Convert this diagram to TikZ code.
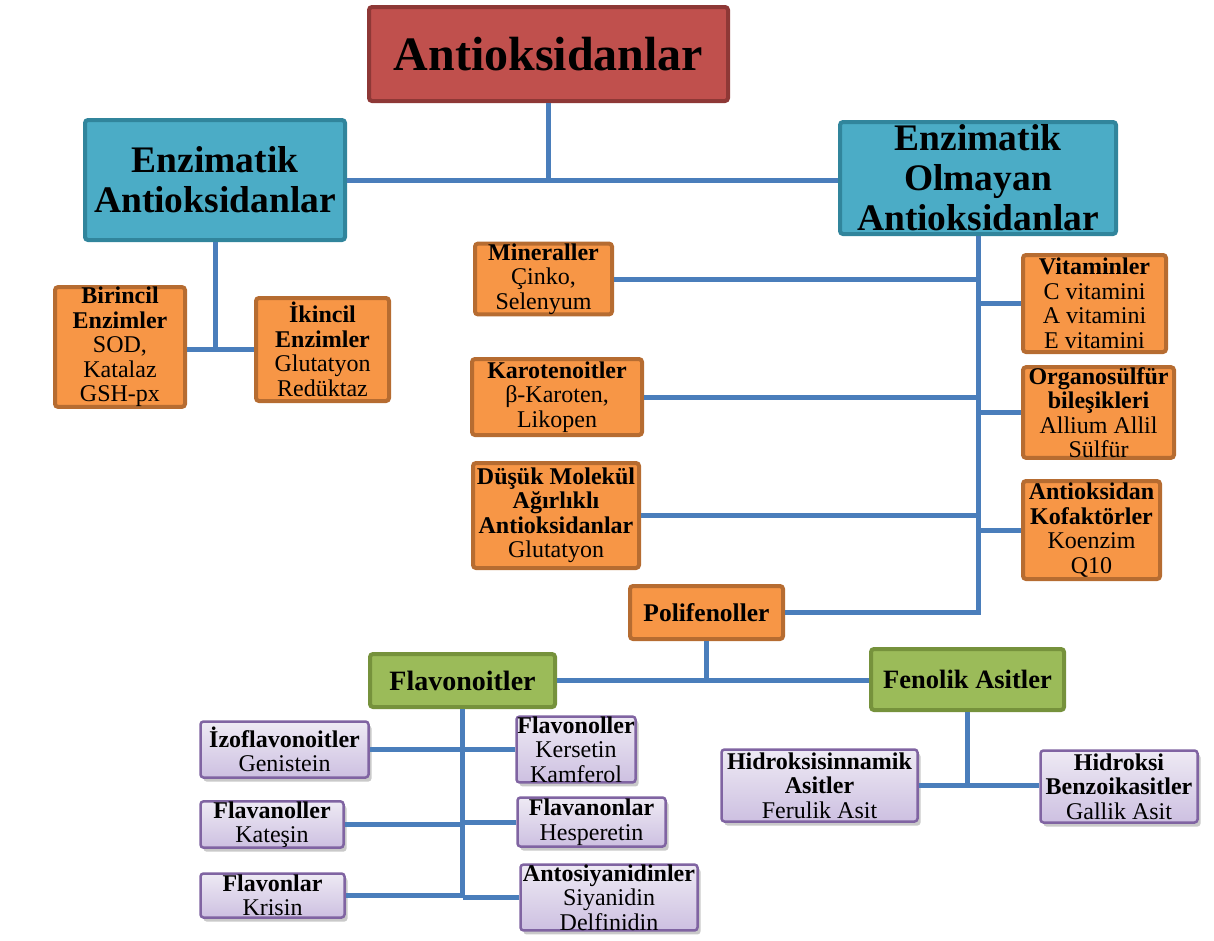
\documentclass[tikz,border=0pt]{standalone}
\usepackage{fontspec}
\setmainfont{Liberation Serif}
\usetikzlibrary{positioning, shadows}

\definecolor{rootfill}{RGB}{192,80,77}
\definecolor{rootline}{RGB}{142,56,54}
\definecolor{mainfill}{RGB}{75,172,198}
\definecolor{mainline}{RGB}{49,133,156}
\definecolor{subfill}{RGB}{247,150,70}
\definecolor{subline}{RGB}{182,108,49}
\definecolor{grpfill}{RGB}{155,187,89}
\definecolor{grpline}{RGB}{118,146,60}
\definecolor{leaftop}{RGB}{238,234,244}
\definecolor{leafbot}{RGB}{205,192,225}
\definecolor{leafline}{RGB}{128,100,162}
\definecolor{linkblue}{RGB}{74,126,187}

\begin{document}
\begin{tikzpicture}[x=1pt, y=-1pt,
    box/.style={rectangle, rounded corners=3pt, inner sep=0pt, align=center, line width=4pt},
    rootbox/.style={box, fill=rootfill, draw=rootline, font=\fontsize{48}{52}\selectfont\bfseries},
    mainbox/.style={box, fill=mainfill, draw=mainline, font=\fontsize{37.5}{40}\selectfont\bfseries},
    subbox/.style={box, fill=subfill, draw=subline, font=\fontsize{24}{24.5}\selectfont},
    grpbox/.style={box, fill=grpfill, draw=grpline, font=\fontsize{26.5}{28}\selectfont\bfseries},
    leafbox/.style={box, line width=2.5pt, top color=leaftop, bottom color=leafbot, draw=leafline,
        drop shadow={shadow xshift=3pt, shadow yshift=-4pt, opacity=0.3, fill=black!70},
        font=\fontsize{24}{24.5}\selectfont},
    link/.style={draw=linkblue, line width=5pt}]
    \useasboundingbox (0,0) rectangle (1214,940);

    \node[rootbox, minimum width=359, minimum height=94] (root) at (548.5,54) {Antioksidanlar};
    \node[mainbox, minimum width=260, minimum height=120] (enz) at (215,180) {Enzimatik\\Antioksidanlar};
    \node[mainbox, minimum width=276, minimum height=112] (nonenz) at (978,178) {Enzimatik\\Olmayan\\Antioksidanlar};

    \node[subbox, minimum width=130, minimum height=118] (birincil) at (120,347) {\textbf{Birincil}\\\textbf{Enzimler}\\SOD,\\Katalaz\\GSH-px};
    \node[subbox, minimum width=133, minimum height=103] (ikincil) at (322.5,349.5) {\textbf{İkincil}\\\textbf{Enzimler}\\Glutatyon\\Redüktaz};

    \node[subbox, minimum width=137, minimum height=70] (mineral) at (543.5,279) {\textbf{Mineraller}\\Çinko,\\Selenyum};
    \node[subbox, minimum width=170, minimum height=76] (karoten) at (557,397) {\textbf{Karotenoitler}\\β-Karoten,\\Likopen};
    \node[subbox, minimum width=166, minimum height=105] (dusuk) at (556,515.5) {\textbf{Düşük Molekül}\\\textbf{Ağırlıklı}\\\textbf{Antioksidanlar}\\Glutatyon};
    \node[subbox, minimum width=143, minimum height=97] (vitamin) at (1094.5,303.5) {\textbf{Vitaminler}\\C vitamini\\A vitamini\\E vitamini};
    \node[subbox, minimum width=151, minimum height=87] (organo) at (1098.5,412.5) {\textbf{Organosülfür}\\\textbf{bileşikleri}\\Allium Allil\\Sülfür};
    \node[subbox, minimum width=137, minimum height=98] (kofaktor) at (1091.5,530) {\textbf{Antioksidan}\\\textbf{Kofaktörler}\\Koenzim\\Q10};
    \node[subbox, minimum width=153, minimum height=53, font=\fontsize{25.5}{28}\selectfont\bfseries] (poli) at (706.5,612.5) {Polifenoller};

    \node[grpbox, minimum width=185, minimum height=53, font=\fontsize{28}{30}\selectfont\bfseries] (flavo) at (462.5,680.5) {Flavonoitler};
    \node[grpbox, minimum width=193, minimum height=61] (fenolik) at (967.5,679.5) {Fenolik Asitler};

    \node[leafbox, minimum width=168, minimum height=56] (izo) at (284.5,749.5) {\textbf{İzoflavonoitler}\\Genistein};
    \node[leafbox, minimum width=143, minimum height=44] (flavanol) at (272,824.5) {\textbf{Flavanoller}\\Kateşin};
    \node[leafbox, minimum width=144, minimum height=44] (flavon) at (272.5,895.5) {\textbf{Flavonlar}\\Krisin};
    \node[leafbox, minimum width=119, minimum height=60] (flavonol) at (576,749.5) {\textbf{Flavonoller}\\Kersetin\\Kamferol};
    \node[leafbox, minimum width=148, minimum height=49] (flavanon) at (591.5,822) {\textbf{Flavanonlar}\\Hesperetin};
    \node[leafbox, minimum width=177, minimum height=62] (antosiy) at (609,897.5) {\textbf{Antosiyanidinler}\\Siyanidin\\Delfinidin};
    \node[leafbox, minimum width=196, minimum height=72] (hidsin) at (819.5,785.5) {\textbf{Hidroksisinnamik}\\\textbf{Asitler}\\Ferulik Asit};
    \node[leafbox, minimum width=157, minimum height=72] (hidben) at (1119,786.5) {\textbf{Hidroksi}\\\textbf{Benzoikasitler}\\Gallik Asit};

    \draw[link] (root.south) -- (root.south |- enz.east);
    \draw[link] (enz.east) -- (enz.east -| nonenz.west);
    \draw[link] (enz.south) -- (enz.south |- ikincil.west);
    \draw[link] (birincil.east |- ikincil.west) -- (ikincil.west);

    \draw[link] (nonenz.south) -- (nonenz.south |- poli.east) -- (poli.east);
    \foreach \n in {mineral, karoten, dusuk}
        \draw[link] (\n.east) -- (\n.east -| nonenz.south);
    \foreach \n in {vitamin, organo, kofaktor}
        \draw[link] (\n.west) -- (\n.west -| nonenz.south);

    \draw[link] (poli.south) -- (poli.south |- flavo.east);
    \draw[link] (flavo.east) -- (flavo.east -| fenolik.west);

    \draw[link] (flavo.south) -- (flavo.south |- antosiy.west);
    \foreach \n in {izo, flavanol, flavon}
        \draw[link] (\n.east) -- (\n.east -| flavo.south);
    \foreach \n in {flavonol, flavanon, antosiy}
        \draw[link] (\n.west) -- (\n.west -| flavo.south);

    \draw[link] (fenolik.south) -- (fenolik.south |- hidsin.east);
    \draw[link] (hidsin.east) -- (hidsin.east -| hidben.west);
\end{tikzpicture}
\end{document}
